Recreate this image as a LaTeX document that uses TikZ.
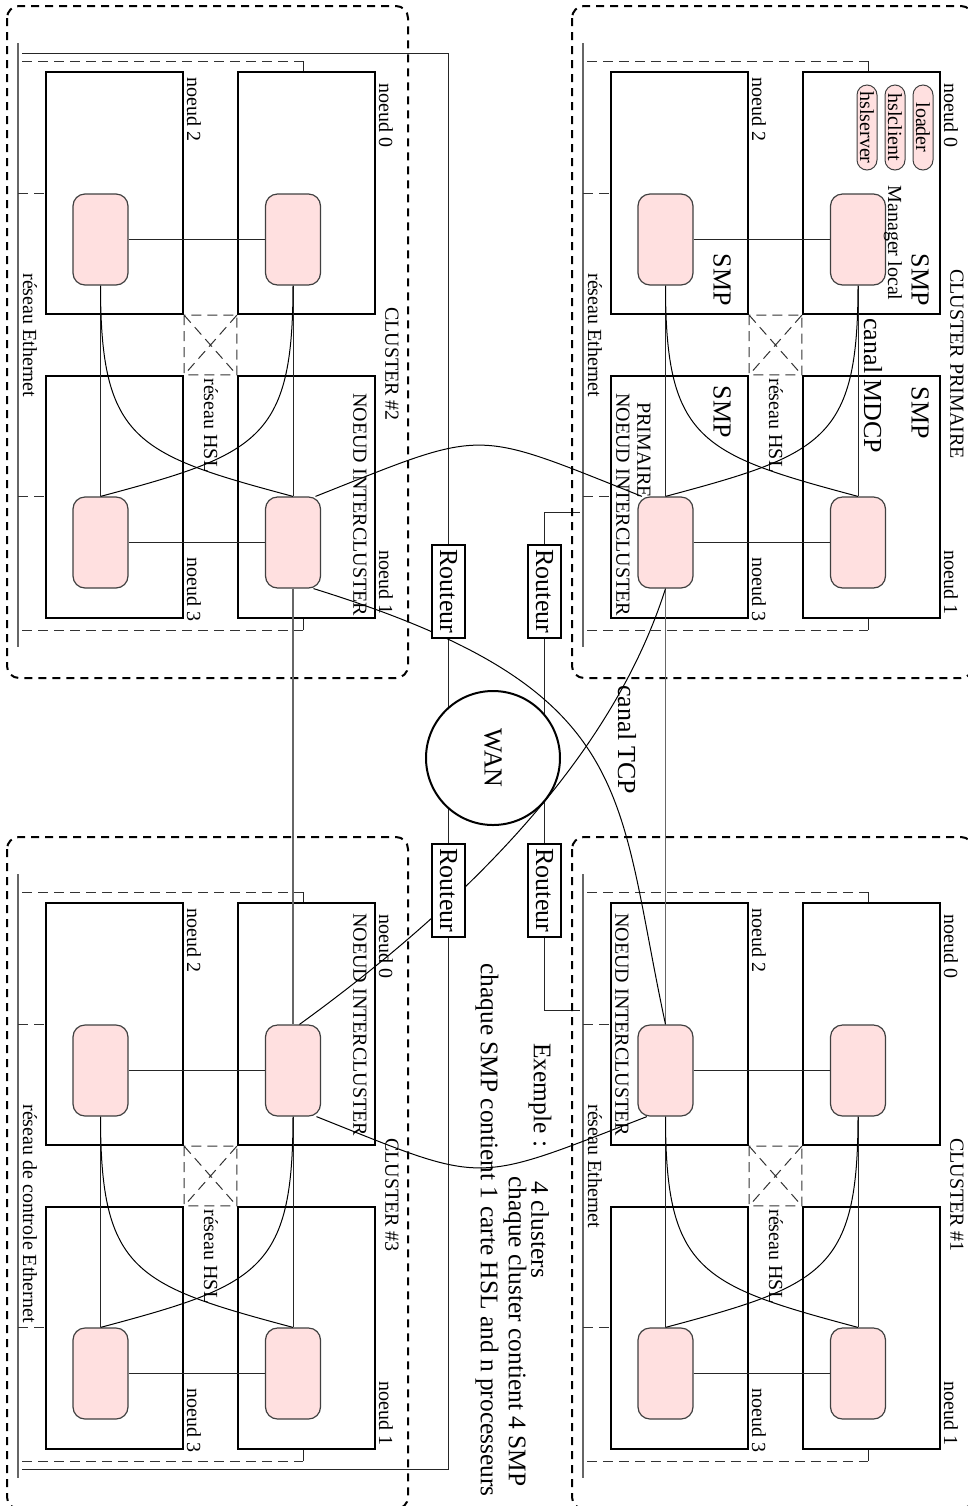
\documentclass[tikz,border=0pt]{standalone}
\usepackage{fontspec}
\setmainfont{Liberation Serif}
\usetikzlibrary{backgrounds}
\definecolor{procpink}{RGB}{255,224,224}

\begin{document}
\begin{tikzpicture}[
    x=0.5pt, y=-0.5pt,
    clusterbox/.style={draw=black, line width=1pt, dash pattern=on 4pt off 3pt, rounded corners=6pt},
    smpbox/.style={draw=black, line width=1.1pt, minimum width=68.5pt, minimum height=121pt, inner sep=0pt},
    proc/.style={draw=black!75, fill=procpink, line width=0.6pt, rounded corners=6pt, minimum width=27.5pt, minimum height=45.5pt, inner sep=0pt},
    pill/.style={draw=black!75, fill=procpink, line width=0.5pt, rounded corners=5pt, rotate=-90, minimum width=42.5pt, minimum height=10pt, inner sep=0pt, font=\fontsize{10}{12}\selectfont},
    routeur/.style={draw=black, fill=white, line width=0.6pt, rotate=-90, minimum width=46.5pt, minimum height=16.5pt, inner sep=0pt, font=\fontsize{13}{15}\selectfont},
    wan/.style={circle, draw=black, fill=white, line width=1pt, rotate=-90, minimum size=67pt, inner sep=0pt, font=\fontsize{13}{15}\selectfont},
    eth/.style={black!60, line width=0.6pt},
    thindash/.style={black!80, line width=0.5pt, dash pattern=on 5pt off 3pt},
    link/.style={black!85, line width=0.5pt},
    canal/.style={black, line width=0.5pt},
    txt/.style={font=\fontsize{10}{12}\selectfont, rotate=-90, inner sep=0pt, anchor=west},
    bigtxt/.style={font=\fontsize{13}{15}\selectfont, rotate=-90, inner sep=0pt, anchor=west},
    extxt/.style={font=\fontsize{12.7}{15}\selectfont, rotate=-90, inner sep=0pt, anchor=west},
]
\useasboundingbox (0,0) rectangle (968,1506);
\clip (0,0) rectangle (968,1506);

\foreach \cx/\cy/\cn/\clab/\elab in {0/0/B/{CLUSTER \#2}/{réseau Ethernet}, 565/0/P/{CLUSTER PRIMAIRE}/{réseau Ethernet}, 0/831/C/{CLUSTER \#3}/{réseau de controle Ethernet}, 565/831/A/{CLUSTER \#1}/{réseau Ethernet}}{
\begin{scope}[shift={(\cx,\cy)}]
\draw[clusterbox] (7,6) rectangle (408,678);
\node[smpbox] (n2\cn) at (114.5,193) {};
\node[smpbox] (n0\cn) at (306.5,193) {};
\node[smpbox] (n3\cn) at (114.5,497) {};
\node[smpbox] (n1\cn) at (306.5,497) {};
\node[proc] (p2\cn) at (100.5,239.5) {};
\node[proc] (p0\cn) at (293,239.5) {};
\node[proc] (p3\cn) at (100.5,542.5) {};
\node[proc] (p1\cn) at (293,542.5) {};
\coordinate (et\cn) at (18,43);
\coordinate (eb\cn) at (18,647);
\coordinate (dt\cn) at (303,61);
\coordinate (db\cn) at (303,630);
\draw[eth] (et\cn) -- (eb\cn);
\draw[thindash] (22,61) -- (dt\cn);
\draw[link] (dt\cn) -- (dt\cn |- n0\cn.north);
\draw[thindash] (22,630) -- (db\cn);
\draw[link] (db\cn) -- (db\cn |- n1\cn.south);
\draw[thindash] (et\cn |- p2\cn.north) -- (n2\cn.west |- p2\cn.north);
\draw[thindash] (et\cn |- p3\cn.north) -- (n3\cn.west |- p3\cn.north);
\draw[thindash] (n2\cn.south east) rectangle (n1\cn.north west)
    (n2\cn.south east) -- (n1\cn.north west) (n0\cn.south west) -- (n3\cn.north east);
\draw[link] (p2\cn) -- (p0\cn);
\draw[link] (p3\cn) -- (p1\cn);
\draw[link] (p0\cn.south) -- (p1\cn.north);
\draw[link] (p2\cn.south) -- (p3\cn.north);
\draw[canal] (p2\cn.south) .. controls +(0,155) and +(-157,-42) .. (p1\cn.north);
\draw[canal] (p0\cn.south) .. controls +(0,155) and +(157,-42) .. (p3\cn.north);
\node[txt] (l0\cn) at (386,83) {noeud 0};
\node[txt] (l2\cn) at (194,77) {noeud 2};
\node[txt] (l1\cn) at (386,550) {noeud 1};
\node[txt] (l3\cn) at (194,557) {noeud 3};
\node[txt] (lh\cn) at (211,378) {réseau HSL};
\node[txt] (le\cn) at (30,273) {\elab};
\node[txt, anchor=center] (lc\cn) at (392,364) {\clab};
\end{scope}
}

\node[pill] (ld) at (923,127.5) {loader};
\node[pill] (hc) at (895,127.5) {hslclient};
\node[pill] (hs) at (867,127.5) {hslserver};
\node[bigtxt, anchor=center] (s0) at (920,280) {SMP};
\node[bigtxt, anchor=center] (s2) at (722,280) {SMP};
\node[bigtxt, anchor=center] (s1) at (920,413) {SMP};
\node[bigtxt, anchor=center] (s3) at (722,412) {SMP};
\node[txt, anchor=center] (mgr) at (893,243) {Manager local};
\node[bigtxt] (mdcp) at (873,318) {canal MDCP};
\node[txt] (prim) at (644,402) {PRIMAIRE};
\node[txt] (icP) at (623,393) {NOEUD INTERCLUSTER};
\node[txt] (icB) at (360,393) {NOEUD INTERCLUSTER};
\node[txt] (icA) at (622,913) {NOEUD INTERCLUSTER};
\node[txt] (icC) at (360,913) {NOEUD INTERCLUSTER};

\draw[eth] (p1B.south) -- (p0C.north);
\draw[eth] (p3P.south) -- (p2A.north);
\draw[canal] (p1B.64) .. controls (488,428) and (470,428) .. (p3P.117);
\draw[canal] (p0C.-63) .. controls (488,1185) and (470,1185) .. (p2A.-112);
\draw[canal] (p3P.south) .. controls (630,700) and (540,850) .. (p0C.82);
\draw[canal] (p1B.-66) .. controls (640,690) and (615,790) .. (p2A.north);

\node[routeur] (rL1) at (448.5,591.5) {Routeur};
\node[routeur] (rR1) at (544.5,591.5) {Routeur};
\node[routeur] (rL2) at (448.5,890.5) {Routeur};
\node[routeur] (rR2) at (544.5,890.5) {Routeur};
\node[wan] (wan) at (493,758) {WAN};
\coordinate (ethB) at (22,53);
\coordinate (ethC) at (22,1469);
\coordinate (ethP) at (580,512);
\coordinate (ethA) at (580,1010);
\begin{scope}[on background layer]
\draw[link] (rL1.west) |- (ethB);
\draw[link] (rL1.east) -- (rL2.west);
\draw[link] (rL2.east) |- (ethC);
\draw[link] (rR1.west) |- (ethP);
\draw[link] (rR1.east) -- (rR2.west);
\draw[link] (rR2.east) |- (ethA);
\end{scope}

\node[bigtxt] (tcp) at (627,685) {canal TCP};
\node[extxt] (ex) at (540,1043) {Exemple :};
\node[extxt] (ex1) at (540,1181) {4 clusters};
\node[extxt, anchor=east] (ex2) at (515,1487) {chaque cluster contient 4 SMP};
\node[extxt, anchor=east] (ex3) at (487,1497) {chaque SMP contient 1 carte HSL and n processeurs};
\end{tikzpicture}
\end{document}
